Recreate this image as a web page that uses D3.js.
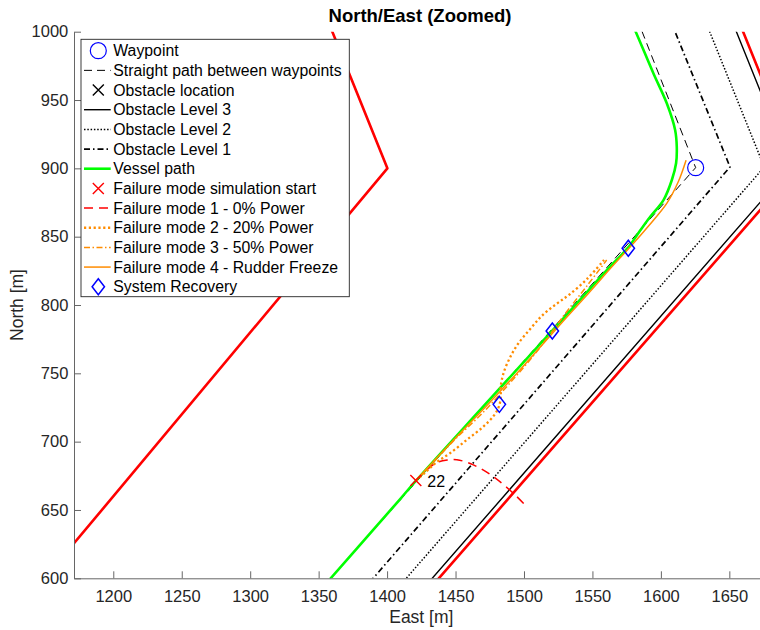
<!DOCTYPE html>
<html>
<head>
<meta charset="utf-8">
<script src="https://cdn.jsdelivr.net/npm/d3@7"></script>
<style>
  body { margin: 0; background: #fff; }
  svg { display: block; }
  text { font-family: "Liberation Sans", Arial, Helvetica, sans-serif; fill: #262626; }
</style>
</head>
<body>
<svg id="chart" width="760" height="630"></svg>
<script>
// ---- data (metres, East / North) ----
const xTicks = [1200, 1250, 1300, 1350, 1400, 1450, 1500, 1550, 1600, 1650];
const yTicks = [600, 650, 700, 750, 800, 850, 900, 950, 1000];

const waypoints = [[1270, 500], [1625.4, 900.5], [1547, 1100]];

// outer boundaries (thick red)
const boundaryWest = [[1100, 540.1], [1400.2, 900], [1360, 1000], [1339.9, 1050]];
const boundaryEast = [[1350.7, 500], [1700, 901], [1619.7, 1100]];

// obstacle safety levels
const obstacleLevel1 = [[1303.2, 500], [1650.5, 901], [1569.8, 1100]];
const obstacleLevel2 = [[1327.1, 500], [1675.5, 901], [1595.4, 1100]];
const obstacleLevel3 = [[1345.9, 500], [1695, 901], [1614.9, 1100]];

const vesselPath = [
  [1315, 550], [1358.8, 600], [1409.4, 657.8], [1421, 671.3], [1470.5, 726],
  [1520.5, 781], [1560, 825], [1576, 842], [1585, 854.7], [1592.2, 864.6],
  [1601.9, 876.8], [1608, 891.5], [1611.1, 903.7], [1611.6, 915.8], [1610.4, 928.1],
  [1604.3, 947.6], [1594.5, 969.6], [1581.6, 1000], [1577, 1010]
];

const failureStart = [1421, 671.5];
const failureStartLabel = "22";

const failureMode1 = [
  [1421, 671.5], [1428, 678.5], [1436, 684.5], [1444, 686.6], [1451, 686.8],
  [1463, 683], [1477.6, 674.4], [1492.2, 662.2], [1502, 652.4]
];
const failureMode2 = [
  [1421, 671.5], [1428, 677.5], [1436.2, 685], [1445.9, 691.5], [1458.2, 701.3],
  [1470.3, 711], [1478, 719], [1481.8, 726], [1483, 733], [1483, 740],
  [1485, 750], [1490, 762], [1496, 772], [1505, 783], [1514, 793],
  [1524, 801], [1533, 807.5], [1546, 819], [1558.5, 833]
];
const failureMode3 = [
  [1421, 671.5], [1435, 686.3], [1450, 702], [1470, 721.2], [1490, 743.2],
  [1507, 763], [1520.5, 780.5], [1531.2, 795.1], [1546, 814], [1560.4, 832.9]
];
const failureMode4 = [
  [1421, 671.5], [1446, 698.5], [1471.5, 725], [1497, 752.5], [1521.8, 780.5],
  [1547, 808.5], [1566, 830], [1578, 843], [1590.5, 857.3], [1604.3, 874.4],
  [1612.7, 890.2], [1618.4, 906]
];

const recoveryPoints = [[1482, 727.3], [1520.7, 781], [1576.2, 841.5]];

const legendLabels = [
  "Waypoint", "Straight path between waypoints", "Obstacle location",
  "Obstacle Level 3", "Obstacle Level 2", "Obstacle Level 1", "Vessel path",
  "Failure mode simulation start", "Failure mode 1 - 0% Power",
  "Failure mode 2 - 20% Power", "Failure mode 3 - 50% Power",
  "Failure mode 4 - Rudder Freeze", "System Recovery"
];

// ---- styles ----
const ORANGE = "#ff8c00", GREEN = "#00ff00", RED = "#ff0000", BLUE = "#0000ff";
const styles = {
  straight: { stroke: "#000", width: 1, dash: "8,5" },
  level3:   { stroke: "#000", width: 1.4, dash: null },
  level2:   { stroke: "#000", width: 1.5, dash: "1.5,1.8" },
  level1:   { stroke: "#000", width: 1.7, dash: "6,3,1.5,3" },
  vessel:   { stroke: GREEN, width: 2.6, dash: null },
  boundary: { stroke: RED, width: 2.6, dash: null },
  fm1:      { stroke: RED, width: 1.5, dash: "9,6" },
  fm2:      { stroke: ORANGE, width: 2.3, dash: "2.2,2.6" },
  fm3:      { stroke: ORANGE, width: 1.5, dash: "6,2.5,1.5,2.5" },
  fm4:      { stroke: ORANGE, width: 1.5, dash: null }
};

// ---- layout ----
const svg = d3.select("#chart");
const x = d3.scaleLinear().domain([1171.3, 1672.4]).range([74, 760]);
const y = d3.scaleLinear().domain([600, 1000]).range([578.3, 31.7]);

svg.append("defs").append("clipPath").attr("id", "plotClip")
  .append("rect")
  .attr("x", x.range()[0]).attr("y", y.range()[1])
  .attr("width", x.range()[1] - x.range()[0])
  .attr("height", y.range()[0] - y.range()[1]);

const plot = svg.append("g").attr("clip-path", "url(#plotClip)");

const straight = d3.line().x(d => x(d[0])).y(d => y(d[1]));
const smooth = d3.line().x(d => x(d[0])).y(d => y(d[1])).curve(d3.curveCatmullRom.alpha(0.5));

function drawLine(g, data, st, gen) {
  const p = g.append("path").datum(data)
    .attr("d", gen || straight)
    .attr("fill", "none")
    .attr("stroke", st.stroke)
    .attr("stroke-width", st.width)
    .attr("stroke-linejoin", "round");
  if (st.dash) p.attr("stroke-dasharray", st.dash);
  return p;
}

function crossPath(cx, cy, h) {
  return `M${cx - h},${cy - h}L${cx + h},${cy + h}M${cx - h},${cy + h}L${cx + h},${cy - h}`;
}
function diamondPath(cx, cy, w, h) {
  return `M${cx},${cy - h}L${cx + w},${cy}L${cx},${cy + h}L${cx - w},${cy}Z`;
}

// ---- marks ----
drawLine(plot, boundaryWest, styles.boundary);
drawLine(plot, boundaryEast, styles.boundary);
drawLine(plot, obstacleLevel3, styles.level3);
drawLine(plot, obstacleLevel2, styles.level2);
drawLine(plot, obstacleLevel1, styles.level1);
drawLine(plot, waypoints, styles.straight);

plot.selectAll("circle.wp").data(waypoints).join("circle")
  .attr("class", "wp")
  .attr("cx", d => x(d[0])).attr("cy", d => y(d[1])).attr("r", 8)
  .attr("fill", "none").attr("stroke", BLUE).attr("stroke-width", 1.2);

drawLine(plot, vesselPath, styles.vessel, smooth);
drawLine(plot, failureMode1, styles.fm1, smooth);
drawLine(plot, failureMode2, styles.fm2, smooth);
drawLine(plot, failureMode3, styles.fm3, smooth);
drawLine(plot, failureMode4, styles.fm4, smooth);

plot.append("path")
  .attr("d", crossPath(x(failureStart[0]), y(failureStart[1]), 5.5))
  .attr("stroke", RED).attr("stroke-width", 1.4).attr("fill", "none");

plot.append("text")
  .attr("x", x(failureStart[0]) + 11.5)
  .attr("y", y(failureStart[1]) + 6.6)
  .attr("font-size", 16)
  .style("fill", "#000")
  .text(failureStartLabel);

plot.selectAll("path.rec").data(recoveryPoints).join("path")
  .attr("class", "rec")
  .attr("d", d => diamondPath(x(d[0]), y(d[1]), 6.2, 8))
  .attr("fill", "none").attr("stroke", BLUE).attr("stroke-width", 1.5);

// ---- axes ----
const fmt = d3.format("d");
const xAxis = d3.axisBottom(x).tickValues(xTicks).tickFormat(fmt)
  .tickSizeInner(-7).tickSizeOuter(0).tickPadding(11.7);
const yAxis = d3.axisLeft(y).tickValues(yTicks).tickFormat(fmt)
  .tickSizeInner(-7).tickSizeOuter(0).tickPadding(5.7);

const gx = svg.append("g").attr("transform", `translate(0,${y.range()[0]})`).call(xAxis);
const gy = svg.append("g").attr("transform", `translate(${x.range()[0]},0)`).call(yAxis);
[gx, gy].forEach(g => {
  g.select(".domain").attr("stroke", "#666").attr("stroke-width", 1);
  g.selectAll(".tick line").attr("stroke", "#666").attr("stroke-width", 1);
  g.selectAll(".tick text").attr("font-size", 16.5)
    .attr("font-family", '"Liberation Sans", Arial, Helvetica, sans-serif')
    .style("fill", "#262626");
});

svg.append("text").attr("x", 420).attr("y", 21.7)
  .attr("text-anchor", "middle").attr("font-size", 18.5).attr("font-weight", "bold")
  .style("fill", "#000")
  .text("North/East (Zoomed)");

svg.append("text").attr("x", 421.3).attr("y", 622.5)
  .attr("text-anchor", "middle").attr("font-size", 17.5)
  .text("East [m]");

svg.append("text")
  .attr("transform", `translate(23.3,${(y.range()[0] + y.range()[1]) / 2}) rotate(-90)`)
  .attr("text-anchor", "middle").attr("font-size", 17.5)
  .text("North [m]");

// ---- legend ----
const lg = svg.append("g");
lg.append("rect").attr("x", 81).attr("y", 39.3).attr("width", 268.3).attr("height", 257.4)
  .attr("fill", "#fff").attr("stroke", "#262626").attr("stroke-width", 0.9);

const rowY = i => 50.7 + i * 19.67;
const sx0 = 84, sx1 = 110.7, mx = 98.3;
const sampleStyles = [null, styles.straight, null, styles.level3, styles.level2, styles.level1,
  styles.vessel, null, styles.fm1, styles.fm2, styles.fm3, styles.fm4, null];

legendLabels.forEach((label, i) => {
  const cy = rowY(i);
  const st = sampleStyles[i];
  if (st) drawLine(lg, [[0, 0], [1, 0]], st, d3.line().x(d => d[0] ? sx1 : sx0).y(() => cy));
  lg.append("text").attr("x", 113.3).attr("y", cy + 5.6).attr("font-size", 15.8)
    .style("fill", "#000").text(label);
});
lg.append("circle").attr("cx", mx).attr("cy", rowY(0)).attr("r", 8)
  .attr("fill", "none").attr("stroke", BLUE).attr("stroke-width", 1.2);
lg.append("path").attr("d", crossPath(mx, rowY(2), 5.5))
  .attr("stroke", "#000").attr("stroke-width", 1.4);
lg.append("path").attr("d", crossPath(mx, rowY(7), 5.5))
  .attr("stroke", RED).attr("stroke-width", 1.4);
lg.append("path").attr("d", diamondPath(mx, rowY(12), 6.2, 8))
  .attr("fill", "none").attr("stroke", BLUE).attr("stroke-width", 1.5);
</script>
</body>
</html>
